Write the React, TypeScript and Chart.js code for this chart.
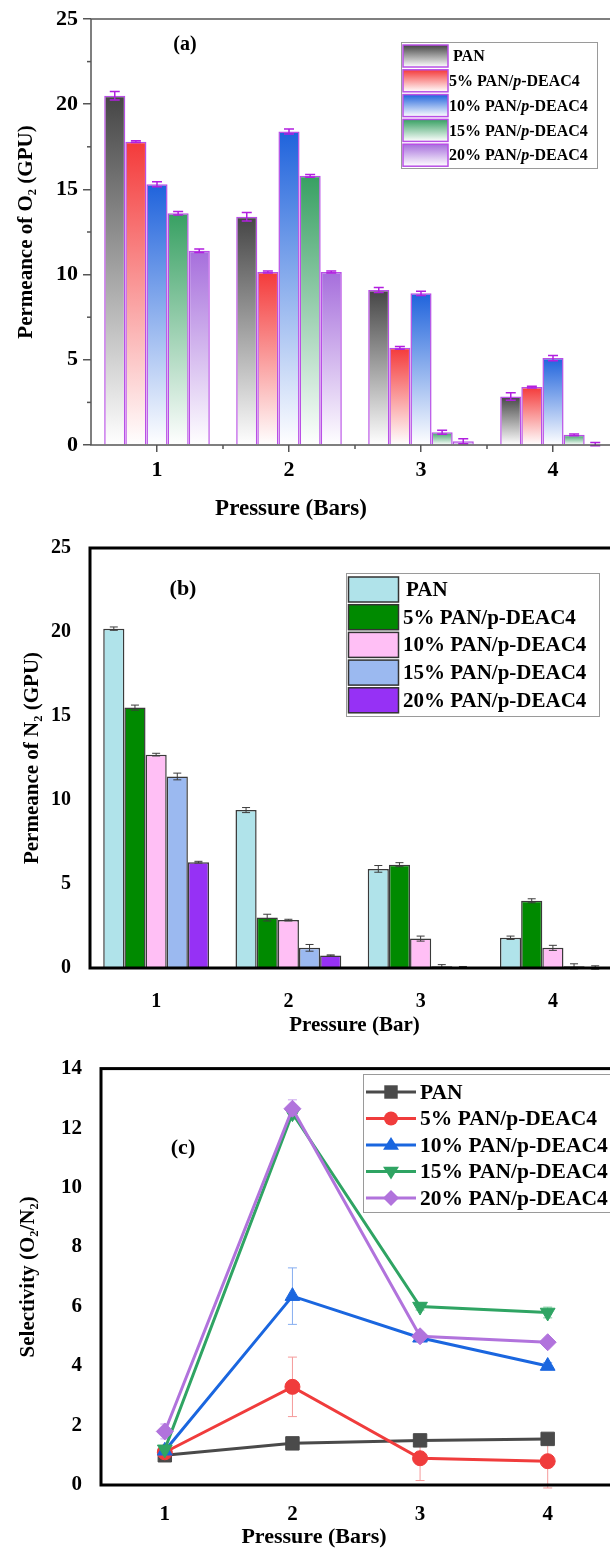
import React, { useEffect, useRef } from 'react';
import { Chart, registerables } from 'chart.js';
Chart.register(...registerables);

const FONT = "'Liberation Serif', 'DejaVu Serif', 'Times New Roman', serif";

// ---------- shared ----------
const pressures = ['1', '2', '3', '4'];
const seriesNames = ['PAN', '5% PAN/p-DEAC4', '10% PAN/p-DEAC4', '15% PAN/p-DEAC4', '20% PAN/p-DEAC4'];

// ---------- (a) O2 permeance (GPU) ----------
const o2PAN = [20.5, 13.4, 9.1, 2.85];
const o2P5 = [17.8, 10.15, 5.7, 3.4];
const o2P10 = [15.3, 18.4, 8.9, 5.1];
const o2P15 = [13.6, 15.8, 0.75, 0.6];
const o2P20 = [11.4, 10.15, 0.22, 0.05];
const o2ErrPAN = [0.25, 0.25, 0.15, 0.22];
const o2ErrP5 = [0.05, 0.06, 0.08, 0.05];
const o2ErrP10 = [0.15, 0.15, 0.12, 0.15];
const o2ErrP15 = [0.1, 0.08, 0.12, 0.05];
const o2ErrP20 = [0.1, 0.06, 0.15, 0.1];
const o2Ticks = [0, 5, 10, 15, 20, 25];

// ---------- (b) N2 permeance (GPU) ----------
const n2PAN = [20.2, 9.4, 5.9, 1.8];
const n2P5 = [15.5, 3.0, 6.15, 4.0];
const n2P10 = [12.7, 2.85, 1.75, 1.2];
const n2P15 = [11.4, 1.2, 0.1, 0.1];
const n2P20 = [6.3, 0.75, 0.03, 0.03];
const n2ErrPAN = [0.1, 0.15, 0.2, 0.1];
const n2ErrP5 = [0.15, 0.2, 0.12, 0.12];
const n2ErrP10 = [0.08, 0.05, 0.15, 0.15];
const n2ErrP15 = [0.2, 0.2, 0.1, 0.15];
const n2ErrP20 = [0.05, 0.03, 0.06, 0.1];

// ---------- (c) selectivity O2/N2 ----------
const selPAN = [1.0, 1.4, 1.5, 1.55];
const selP5 = [1.1, 3.3, 0.9, 0.8];
const selP10 = [1.15, 6.35, 4.95, 4.0];
const selP15 = [1.2, 12.5, 6.0, 5.8];
const selP20 = [1.8, 12.65, 5.0, 4.8];
const selErrPAN = [0.05, 0.05, 0.08, 0.08];
const selErrP5 = [0.1, 1.0, 0.75, 0.9];
const selErrP10 = [0.1, 0.95, 0.1, 0.12];
const selErrP15 = [0.1, 0.2, 0.12, 0.18];
const selErrP20 = [0.25, 0.3, 0.12, 0.1];

// ---------- styles ----------
const gradColorsA = ['#454545', '#f43a3a', '#1f63dc', '#37a062', '#a66edc'];
const fillColorsB = ['#b0e3ea', '#008a00', '#ffbff5', '#9bb9f0', '#9631f5'];
const lineColorsC = ['#4a4a4a', '#f03c3c', '#1a66df', '#2fa463', '#b173dc'];
const errColorsC = ['#666666', '#f59a9a', '#86aef0', '#7ccc9c', '#c9a3ee'];
const markerC = ['rect', 'circle', 'triangle', 'triangleDown', 'rectRot'];

function fontStr(size: number, italic = false) {
  return `${italic ? 'italic ' : ''}bold ${size}px ${FONT}`;
}

function drawLabel(ctx: CanvasRenderingContext2D, text: string, x: number, y: number, size: number, italicP: boolean) {
  ctx.textBaseline = 'middle';
  ctx.textAlign = 'left';
  ctx.fillStyle = '#000';
  let parts: { t: string; i: boolean }[] = [{ t: text, i: false }];
  const idx = text.indexOf('/p-');
  if (italicP && idx >= 0) {
    parts = [
      { t: text.slice(0, idx + 1), i: false },
      { t: 'p', i: true },
      { t: text.slice(idx + 2), i: false },
    ];
  }
  let cx = x;
  for (const p of parts) {
    ctx.font = fontStr(size, p.i);
    ctx.fillText(p.t, cx, y);
    cx += ctx.measureText(p.t).width;
  }
}

function drawCenteredText(ctx: CanvasRenderingContext2D, text: string, x: number, y: number, size: number) {
  ctx.save();
  ctx.font = fontStr(size);
  ctx.fillStyle = '#000';
  ctx.textAlign = 'center';
  ctx.textBaseline = 'middle';
  ctx.fillText(text, x, y);
  ctx.restore();
}

function drawMarker(ctx: CanvasRenderingContext2D, style: string, x: number, y: number, r: number) {
  ctx.beginPath();
  if (style === 'rect') {
    const s = r * Math.SQRT1_2;
    ctx.rect(x - s, y - s, 2 * s, 2 * s);
  } else if (style === 'circle') {
    ctx.arc(x, y, r, 0, Math.PI * 2);
  } else if (style === 'triangle') {
    ctx.moveTo(x, y - r);
    ctx.lineTo(x + r * 0.866 * 1.15, y + r * 0.6);
    ctx.lineTo(x - r * 0.866 * 1.15, y + r * 0.6);
    ctx.closePath();
  } else if (style === 'triangleDown') {
    ctx.moveTo(x, y + r);
    ctx.lineTo(x + r * 0.866 * 1.15, y - r * 0.6);
    ctx.lineTo(x - r * 0.866 * 1.15, y - r * 0.6);
    ctx.closePath();
  } else {
    ctx.moveTo(x, y - r);
    ctx.lineTo(x + r, y);
    ctx.lineTo(x, y + r);
    ctx.lineTo(x - r, y);
    ctx.closePath();
  }
  ctx.fill();
}

function errorBarPlugin(capW: number, lineW: number, before: boolean) {
  const draw = (chart: any) => {
    const ctx = chart.ctx as CanvasRenderingContext2D;
    const ys = chart.scales.y;
    chart.data.datasets.forEach((ds: any, di: number) => {
      if (!ds.errors) return;
      const meta = chart.getDatasetMeta(di);
      ctx.save();
      ctx.strokeStyle = ds.errorColor;
      ctx.lineWidth = lineW;
      meta.data.forEach((el: any, i: number) => {
        const v = ds.data[i] as number;
        const e = ds.errors[i] as number;
        const x = el.x;
        const y1 = ys.getPixelForValue(v + e);
        const y2 = ys.getPixelForValue(v - e);
        ctx.beginPath();
        ctx.moveTo(x, y1);
        ctx.lineTo(x, y2);
        ctx.moveTo(x - capW / 2, y1);
        ctx.lineTo(x + capW / 2, y1);
        ctx.moveTo(x - capW / 2, y2);
        ctx.lineTo(x + capW / 2, y2);
        ctx.stroke();
      });
      ctx.restore();
    });
  };
  return before
    ? { id: 'errbarsBefore', beforeDatasetsDraw: draw }
    : { id: 'errbarsAfter', afterDatasetsDraw: draw };
}

function framePlugin(color: string, width: number, extra?: (chart: any) => void) {
  return {
    id: 'frame',
    afterDraw(chart: any) {
      const { ctx, chartArea: a } = chart;
      ctx.save();
      ctx.strokeStyle = color;
      ctx.lineWidth = width;
      ctx.strokeRect(a.left, a.top, a.right - a.left, a.bottom - a.top);
      ctx.restore();
      if (extra) extra(chart);
    },
  };
}

function gradientFill(color: string) {
  return (c: any) => {
    const chart = c.chart;
    const area = chart.chartArea;
    if (!area || c.type !== 'data') return color;
    const y = chart.scales.y;
    const v = c.raw as number;
    const top = y.getPixelForValue(v);
    const bot = y.getPixelForValue(0);
    if (!(bot - top > 0.5)) return color;
    const g = chart.ctx.createLinearGradient(0, top, 0, bot);
    g.addColorStop(0, color);
    g.addColorStop(1, '#ffffff');
    return g;
  };
}

// ---------- chart builders ----------
function buildA(canvas: HTMLCanvasElement) {
  const values = [o2PAN, o2P5, o2P10, o2P15, o2P20];
  const errs = [o2ErrPAN, o2ErrP5, o2ErrP10, o2ErrP15, o2ErrP20];
  const AX = '#555555';
  const extra = (chart: any) => {
    const ctx = chart.ctx as CanvasRenderingContext2D;
    const a = chart.chartArea;
    const ys = chart.scales.y;
    const xs = chart.scales.x;
    ctx.save();
    ctx.strokeStyle = AX;
    ctx.lineWidth = 1.5;
    for (let i = 0; i < o2Ticks.length - 1; i++) {
      const v = (o2Ticks[i] + o2Ticks[i + 1]) / 2;
      const py = ys.getPixelForValue(v);
      ctx.beginPath();
      ctx.moveTo(a.left - 4, py);
      ctx.lineTo(a.left, py);
      ctx.stroke();
    }
    for (let i = 0; i < pressures.length - 1; i++) {
      const px = (xs.getPixelForValue(i) + xs.getPixelForValue(i + 1)) / 2;
      ctx.beginPath();
      ctx.moveTo(px, a.bottom);
      ctx.lineTo(px, a.bottom + 4);
      ctx.stroke();
    }
    ctx.restore();
    drawCenteredText(ctx, '(a)', 185, 45, 20);
    drawCenteredText(ctx, 'Pressure (Bars)', 291, 509, 23);
    ctx.save();
    ctx.strokeStyle = '#9a9a9a';
    ctx.lineWidth = 1;
    ctx.strokeRect(401.5, 42.5, 196, 126);
    for (let i = 0; i < seriesNames.length; i++) {
      const top = 45 + i * 24.8;
      const h = 22;
      const g = ctx.createLinearGradient(0, top, 0, top + h);
      g.addColorStop(0, gradColorsA[i]);
      g.addColorStop(1, '#ffffff');
      ctx.fillStyle = g;
      ctx.fillRect(403, top, 45, h);
      ctx.strokeStyle = '#b94fe6';
      ctx.lineWidth = 1.5;
      ctx.strokeRect(403, top, 45, h);
      drawLabel(ctx, seriesNames[i], i === 0 ? 453 : 449, top + h / 2 + 1, 16, true);
    }
    ctx.restore();
  };
  return new Chart(canvas, {
    type: 'bar',
    data: {
      labels: pressures,
      datasets: values.map((d, i) => ({
        label: seriesNames[i],
        data: d,
        errors: errs[i],
        errorColor: '#b21fe0',
        backgroundColor: gradientFill(gradColorsA[i]),
        borderColor: '#b94fe6',
        borderWidth: 1.5,
        categoryPercentage: 0.8,
        barPercentage: 1.0,
      })) as any,
    },
    options: {
      animation: false,
      responsive: false,
      devicePixelRatio: 1,
      layout: { padding: { top: 19, left: 0, right: 3, bottom: 0 } },
      plugins: { legend: { display: false }, tooltip: { enabled: false } },
      scales: {
        x: {
          offset: true,
          grid: { display: true, drawOnChartArea: false, drawTicks: true, tickLength: 7, color: AX, lineWidth: 1.5, offset: false },
          border: { display: false },
          ticks: { color: '#000', font: { family: FONT, size: 22, weight: 'bold' }, padding: 5 },
          title: { display: false },
          afterFit: (s: any) => { s.height = 80; },
        },
        y: {
          min: 0,
          max: 25,
          afterBuildTicks: (s: any) => { s.ticks = o2Ticks.map((v) => ({ value: v })); },
          grid: { display: true, drawOnChartArea: false, drawTicks: true, tickLength: 8, color: AX, lineWidth: 1.5 },
          border: { display: false },
          ticks: { color: '#000', font: { family: FONT, size: 22, weight: 'bold' }, padding: 5 },
          title: { display: true, text: 'Permeance of O₂ (GPU)', color: '#000', font: { family: FONT, size: 21, weight: 'bold' }, padding: { top: 14, bottom: 0 } },
          afterFit: (s: any) => { s.width = 91; },
        },
      },
    } as any,
    plugins: [errorBarPlugin(10, 1.5, false), framePlugin(AX, 1.5, extra)],
  });
}

function buildB(canvas: HTMLCanvasElement) {
  const values = [n2PAN, n2P5, n2P10, n2P15, n2P20];
  const errs = [n2ErrPAN, n2ErrP5, n2ErrP10, n2ErrP15, n2ErrP20];
  const extra = (chart: any) => {
    const ctx = chart.ctx as CanvasRenderingContext2D;
    const off = 525;
    drawCenteredText(ctx, '(b)', 183, 589 - off, 22);
    ctx.save();
    ctx.strokeStyle = '#9a9a9a';
    ctx.lineWidth = 1;
    ctx.strokeRect(346.5, 573.5 - off, 253, 143);
    for (let i = 0; i < seriesNames.length; i++) {
      const top = 577 - off + i * 27.7;
      const h = 25;
      ctx.fillStyle = fillColorsB[i];
      ctx.fillRect(348.5, top, 50, h);
      ctx.strokeStyle = '#333';
      ctx.lineWidth = 1.5;
      ctx.strokeRect(348.5, top, 50, h);
      drawLabel(ctx, seriesNames[i], i === 0 ? 406 : 403, top + h / 2 + 1, 21, false);
    }
    ctx.restore();
  };
  return new Chart(canvas, {
    type: 'bar',
    data: {
      labels: pressures,
      datasets: values.map((d, i) => ({
        label: seriesNames[i],
        data: d,
        errors: errs[i],
        errorColor: '#3c3c3c',
        backgroundColor: fillColorsB[i],
        borderColor: '#3a3a3a',
        borderWidth: 1.5,
        categoryPercentage: 0.8,
        barPercentage: 1.0,
      })) as any,
    },
    options: {
      animation: false,
      responsive: false,
      devicePixelRatio: 1,
      layout: { padding: { top: 18, left: 0, right: 3, bottom: 0 } },
      plugins: { legend: { display: false }, tooltip: { enabled: false } },
      scales: {
        x: {
          offset: true,
          grid: { display: false },
          border: { display: false },
          ticks: { color: '#000', font: { family: FONT, size: 20, weight: 'bold' }, padding: 14 },
          title: { display: true, text: 'Pressure (Bar)', color: '#000', font: { family: FONT, size: 21, weight: 'bold' }, padding: { top: 0, bottom: 7 } },
          afterFit: (s: any) => { s.height = 77; },
        },
        y: {
          min: 0,
          max: 25,
          ticks: { stepSize: 5, color: '#000', font: { family: FONT, size: 20, weight: 'bold' }, padding: 11 },
          grid: { display: false },
          border: { display: false },
          title: { display: true, text: 'Permeance of N₂ (GPU)', color: '#000', font: { family: FONT, size: 21, weight: 'bold' }, padding: { top: 20, bottom: 0 } },
          afterFit: (s: any) => { s.width = 90; },
        },
      },
    } as any,
    plugins: [errorBarPlugin(8, 1, false), framePlugin('#000', 3, extra)],
  });
}

function buildC(canvas: HTMLCanvasElement) {
  const values = [selPAN, selP5, selP10, selP15, selP20];
  const errs = [selErrPAN, selErrP5, selErrP10, selErrP15, selErrP20];
  const extra = (chart: any) => {
    const ctx = chart.ctx as CanvasRenderingContext2D;
    const off = 1045;
    drawCenteredText(ctx, '(c)', 183, 1148 - off, 22);
    drawCenteredText(ctx, 'Pressure (Bars)', 314, 1537 - off, 22);
    ctx.save();
    ctx.fillStyle = '#fff';
    ctx.fillRect(363.5, 1074.5 - off, 270, 138);
    ctx.strokeStyle = '#9a9a9a';
    ctx.lineWidth = 1;
    ctx.strokeRect(363.5, 1074.5 - off, 270, 138);
    for (let i = 0; i < seriesNames.length; i++) {
      const cy = 1092 - off + i * 26.5;
      ctx.strokeStyle = lineColorsC[i];
      ctx.lineWidth = 3;
      ctx.beginPath();
      ctx.moveTo(366, cy);
      ctx.lineTo(416, cy);
      ctx.stroke();
      ctx.fillStyle = lineColorsC[i];
      const r = markerC[i] === 'rect' ? 9.5 : markerC[i] === 'circle' ? 7 : 8;
      drawMarker(ctx, markerC[i], 391, cy, r);
      drawLabel(ctx, seriesNames[i], 420, cy + 1, 21.5, false);
    }
    ctx.restore();
  };
  return new Chart(canvas, {
    type: 'line',
    data: {
      labels: pressures,
      datasets: values.map((d, i) => ({
        label: seriesNames[i],
        data: d,
        errors: errs[i],
        errorColor: errColorsC[i],
        borderColor: lineColorsC[i],
        backgroundColor: lineColorsC[i],
        borderWidth: 3,
        pointStyle: markerC[i] === 'triangleDown' ? 'triangle' : markerC[i],
        pointRotation: markerC[i] === 'triangleDown' ? 180 : 0,
        pointRadius: markerC[i] === 'rect' ? 9.5 : markerC[i] === 'circle' ? 7.5 : 8.5,
        pointBorderWidth: 1,
        tension: 0,
        order: 5 - i,
      })) as any,
    },
    options: {
      animation: false,
      responsive: false,
      devicePixelRatio: 1,
      layout: { padding: { top: 21, left: 0, right: 3, bottom: 0 } },
      plugins: { legend: { display: false }, tooltip: { enabled: false } },
      scales: {
        x: {
          offset: true,
          grid: { display: false },
          border: { display: false },
          ticks: { color: '#000', font: { family: FONT, size: 21, weight: 'bold' }, padding: 9 },
          title: { display: false },
          afterFit: (s: any) => { s.height = 70; },
        },
        y: {
          min: 0,
          max: 14,
          ticks: { stepSize: 2, color: '#000', font: { family: FONT, size: 21, weight: 'bold' }, padding: 11 },
          grid: { display: false },
          border: { display: false },
          title: { display: true, text: 'Selectivity (O₂/N₂)', color: '#000', font: { family: FONT, size: 21, weight: 'bold' }, padding: { top: 16, bottom: 0 } },
          afterFit: (s: any) => { s.width = 101; },
        },
      },
    } as any,
    plugins: [errorBarPlugin(9, 1, true), framePlugin('#000', 3, extra)],
  });
}

function ChartBox(props: { top: number; height: number; build: (c: HTMLCanvasElement) => Chart }) {
  const ref = useRef<HTMLCanvasElement | null>(null);
  useEffect(() => {
    if (!ref.current) return;
    const chart = props.build(ref.current);
    return () => chart.destroy();
  }, []);
  return (
    <div style={{ position: 'absolute', left: 0, top: props.top, width: 622, height: props.height }}>
      <canvas ref={ref} width={622} height={props.height} style={{ width: 622, height: props.height, display: 'block' }} />
    </div>
  );
}

export default function App() {
  return (
    <div style={{ position: 'absolute', left: 0, top: 0, width: 610, height: 1549, overflow: 'hidden', background: '#ffffff' }}>
      <ChartBox top={0} height={525} build={buildA} />
      <ChartBox top={525} height={520} build={buildB} />
      <ChartBox top={1045} height={510} build={buildC} />
    </div>
  );
}
